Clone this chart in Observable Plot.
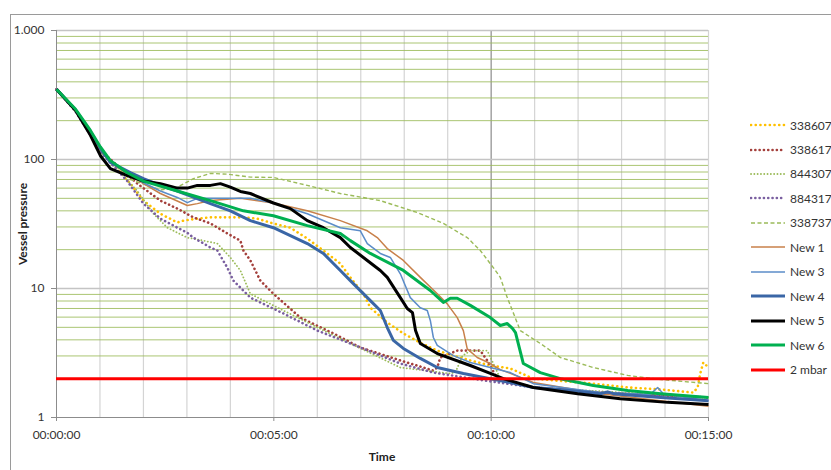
<!DOCTYPE html>
<html>
<head>
<meta charset="utf-8">
<script src="https://cdn.jsdelivr.net/npm/d3@7"></script>
<script src="https://cdn.jsdelivr.net/npm/@observablehq/plot@0.6"></script>
<style>
  html, body { margin: 0; padding: 0; background: #fff; overflow: hidden; }
  #wrap { position: relative; width: 831px; height: 470px; font-family: Lato, "Open Sans", sans-serif; }
  #frame { position: absolute; left: 10px; top: 14px; width: 840px; height: 480px; border: 1px solid #9a9a9a; box-sizing: border-box; }
  #chart { position: absolute; left: 0; top: 0; }
  .ytitle { position: absolute; left: 22px; top: 224px; transform: translate(-50%, -50%) rotate(-90deg); font-weight: bold; font-size: 12px; color: #222; white-space: nowrap; }
  .xtitle { position: absolute; left: 382px; top: 456px; transform: translate(-50%, -50%); font-weight: bold; font-size: 12px; color: #222; }
  .leg { position: absolute; left: 750px; height: 14px; display: flex; align-items: center; font-size: 12px; color: #333; }
  .leg svg { margin-right: 4px; }
</style>
</head>
<body>
<div id="wrap">
  <div id="frame"></div>
  <div id="chart"></div>
  <div class="ytitle">Vessel pressure</div>
  <div class="xtitle">Time</div>
</div>
<script>
// ---- Data (time in minutes, pressure in mbar) ----
const s338607 = [[0,350],[0.44,240],[0.78,160],[1.01,118],[1.70,65],[2.0,48],[2.39,38],[2.78,32.5],[2.92,33.6],[3.24,34.8],[3.54,35.6],[4.30,35.6],[4.62,34.8],[4.99,31.9],[5.38,29.6],[5.77,24.4],[6.14,19.7],[6.53,15.6],[6.76,12.2],[7.06,9.1],[7.22,7.1],[7.61,5.45],[7.98,4.48],[8.37,3.8],[8.76,3.3],[9.13,3.02],[9.52,2.77],[9.98,2.53],[10.44,2.4],[10.97,2.0],[12.35,1.83],[13.14,1.71],[13.9,1.65],[14.65,1.56],[14.75,1.71],[14.81,2.19],[14.88,2.67],[15,2.44]];
const s338617 = [[0,350],[0.44,240],[0.78,160],[1.01,118],[1.86,65],[2.39,48],[2.78,41.6],[3.15,35.6],[3.54,32],[3.93,26.7],[4.23,23.5],[4.30,19.7],[4.46,16.5],[4.69,11.5],[4.99,9.1],[5.61,5.95],[6.37,4.48],[6.99,3.49],[7.91,2.77],[8.67,2.31],[8.76,2.44],[8.83,2.92],[9.22,3.3],[9.75,3.3],[9.91,2.77],[10.14,2.0],[10.97,1.71],[12.51,1.56],[15,1.43]];
const s844307 = [[0,350],[0.44,235],[0.78,155],[1.01,115],[1.86,57],[2.23,38],[2.55,29.6],[3.01,24.8],[3.38,23.5],[3.70,22.3],[4.0,17.4],[4.23,13.8],[4.46,9.1],[5.22,6.75],[6.0,5.0],[6.76,3.75],[7.91,2.44],[9.06,2.19],[9.18,2.25],[9.34,3.0],[9.52,3.3],[9.91,3.3],[10.05,2.62],[10.21,2.0],[10.97,1.71],[15,1.43]];
const s884317 = [[0,350],[0.44,235],[0.78,155],[1.01,115],[1.63,68],[2.0,45.5],[2.39,34.8],[2.78,29.6],[3.01,27],[3.15,24.8],[3.54,20.8],[3.70,19.7],[3.93,14.5],[4.07,11.5],[4.46,8.5],[5.22,6.4],[6.0,4.72],[6.76,3.75],[7.91,2.62],[8.67,2.23],[9.82,1.94],[10.97,1.71],[12.51,1.56],[15,1.43]];
const s338737 = [[0,350],[0.44,235],[0.78,155],[1.01,115],[1.70,70],[2.39,58],[2.78,61],[3.15,71],[3.54,78],[3.93,77],[4.46,73],[4.99,72.6],[5.77,63],[6.53,54.5],[7.45,48],[8.30,38.8],[8.9,32],[9.45,24.8],[9.75,19.7],[10.05,14.5],[10.21,12.2],[10.37,8.5],[10.67,4.72],[11.13,3.75],[11.59,2.92],[12.35,2.44],[13.14,2.12],[13.9,1.97],[15,1.83]];
const new1 = [[0,350],[0.44,240],[0.78,163],[1.01,120],[1.24,95],[1.70,75],[2.0,65],[2.39,54.5],[3.01,44],[3.24,45.5],[3.54,48],[4.23,50],[4.99,46],[5.77,40],[6.53,33.6],[7.15,28],[7.38,24.8],[7.61,20.4],[7.98,16.5],[8.37,12.2],[8.76,9.1],[8.99,7.6],[9.22,5.95],[9.36,4.72],[9.45,3.4],[9.68,2.92],[9.98,2.62],[10.21,2.35],[10.44,2.2],[10.97,1.87],[12.51,1.53],[13.9,1.35],[15,1.22]];
const new3 = [[0,350],[0.44,242],[0.78,165],[1.01,121],[1.24,96],[1.70,76],[2.0,66],[2.39,57],[2.78,50.8],[3.01,46.3],[3.24,50],[4.0,50],[4.46,50],[4.99,46],[5.77,38],[6.53,29.6],[6.99,28],[7.15,22.3],[7.45,18.7],[7.68,17.4],[7.91,13.0],[8.14,8.5],[8.37,7.1],[8.53,6.75],[8.6,5.65],[8.67,4.17],[8.76,3.62],[9.13,3.02],[9.52,2.67],[9.98,2.44],[10.44,2.23],[10.97,1.83],[12.51,1.56],[13.66,1.51],[13.83,1.71],[13.96,1.53],[15,1.35]];
const new4 = [[0,350],[0.44,242],[0.78,165],[1.01,122],[1.24,95],[1.70,79],[2.0,71],[2.39,63],[2.78,57],[3.54,45.5],[4.0,40],[4.46,33.6],[4.99,29.6],[5.38,25.7],[5.77,22.3],[6.14,18.7],[6.53,13.8],[6.76,11.5],[7.22,8.06],[7.45,6.75],[7.61,4.98],[7.75,3.96],[7.98,3.43],[8.37,2.87],[8.76,2.44],[9.36,2.19],[9.98,2.0],[10.44,1.87],[10.97,1.71],[11.59,1.65],[12.51,1.53],[12.68,1.58],[12.81,1.53],[13.9,1.43],[15,1.35]];
const new5 = [[0,350],[0.44,240],[0.78,154],[1.01,107],[1.24,85],[1.63,75],[2.0,68],[2.39,65],[2.78,60],[3.01,60],[3.24,63],[3.54,63],[3.77,65],[4.0,61],[4.23,56.5],[4.46,54.5],[4.99,46],[5.38,41.6],[5.77,33.6],[6.14,29.6],[6.53,24.8],[6.76,20.8],[7.15,16.5],[7.45,13.8],[7.61,12.2],[7.91,8.5],[8.07,7.0],[8.19,6.5],[8.26,4.72],[8.37,3.75],[8.76,3.13],[9.52,2.53],[9.98,2.2],[10.28,2.0],[10.97,1.71],[11.99,1.53],[12.97,1.4],[14.06,1.31],[15,1.26]];
const new6 = [[0,350],[0.44,245],[0.78,168],[1.01,125],[1.24,98],[1.63,79],[2.0,68],[2.78,57],[3.54,48],[4.30,40],[4.99,36.6],[5.77,30.7],[6.53,26.7],[6.76,23.5],[7.22,18.7],[7.98,13.8],[8.6,9.65],[8.9,7.8],[9.06,8.4],[9.22,8.4],[9.52,7.4],[9.98,5.95],[10.21,5.17],[10.37,5.35],[10.49,4.9],[10.56,4.55],[10.74,2.62],[11.13,2.23],[11.59,2.0],[12.35,1.77],[13.14,1.62],[13.9,1.53],[15,1.43]];
const limit2mbar = [2];

const seriesNames = ["338607","338617","844307","884317","338737","New 1","New 3","New 4","New 5","New 6","2 mbar"];
const xTicks = [0, 5, 10, 15];
const xTickLabels = ["00:00:00","00:05:00","00:10:00","00:15:00"];
const yTicks = [1, 10, 100, 1000];
const yTickLabels = ["1","10","100","1.000"];

// ---- Styles ----
const styles = {
  "338607": {stroke:"#ffc000", width:2.6, dash:"0.1 4.6", cap:"round"},
  "338617": {stroke:"#a4403c", width:2.6, dash:"0.1 4.2", cap:"round"},
  "844307": {stroke:"#9bbb59", width:1.8, dash:"0.1 3.2", cap:"round"},
  "884317": {stroke:"#7a5fa0", width:2.6, dash:"0.1 4.2", cap:"round"},
  "338737": {stroke:"#9bbb59", width:1.4, dash:"4 2.5", cap:"butt"},
  "New 1": {stroke:"#c8804a", width:1.5, dash:null, cap:"butt"},
  "New 3": {stroke:"#5b8cc8", width:1.5, dash:null, cap:"butt"},
  "New 4": {stroke:"#3a66a6", width:3, dash:null, cap:"butt"},
  "New 5": {stroke:"#000000", width:3, dash:null, cap:"butt"},
  "New 6": {stroke:"#00b050", width:3, dash:null, cap:"butt"},
  "2 mbar": {stroke:"#ff0000", width:3, dash:null, cap:"butt"}
};
const seriesData = {"338607":s338607,"338617":s338617,"844307":s844307,"884317":s884317,"338737":s338737,"New 1":new1,"New 3":new3,"New 4":new4,"New 5":new5,"New 6":new6};

// grid helpers (layout only)
const minuteGrid = d3.range(1, 16);
const minorY = [];
for (const dec of [1, 10, 100]) for (let k = 2; k <= 9; k++) minorY.push(dec * k);

const lineMarks = Object.keys(seriesData).map(name => {
  const st = styles[name];
  return Plot.line(seriesData[name], {
    x: d => d[0], y: d => d[1],
    stroke: st.stroke, strokeWidth: st.width,
    strokeDasharray: st.dash || undefined,
    strokeLinecap: st.cap, strokeLinejoin: "round"
  });
});

const chart = Plot.plot({
  width: 831, height: 470,
  marginLeft: 56, marginRight: 123, marginTop: 30, marginBottom: 53,
  style: {fontFamily: "Lato, 'Open Sans', sans-serif", fontSize: "12px", color: "#333", background: "transparent"},
  x: {domain: [0, 15], label: null},
  y: {type: "log", domain: [1, 1000], label: null},
  marks: [
    Plot.ruleX(minuteGrid, {stroke: "#d4d4d4", strokeWidth: 1.2}),
    Plot.ruleX([10], {stroke: "#8c8c8c", strokeWidth: 1}),
    Plot.ruleY(minorY, {stroke: "#9bbb59", strokeWidth: 1, strokeOpacity: 0.85}),
    Plot.ruleY([10, 100, 1000], {stroke: "#c4c4c4", strokeWidth: 1.5}),
    Plot.ruleY([1], {stroke: "#8c8c8c", strokeWidth: 1}),
    Plot.ruleX([0], {stroke: "#8c8c8c", strokeWidth: 1}),
    Plot.axisX({ticks: xTicks, tickFormat: (d, i) => xTickLabels[xTicks.indexOf(d)], tickSize: 4, tickPadding: 9, stroke: "#8c8c8c", fill: "#333", label: null}),
    Plot.axisY({ticks: yTicks, tickFormat: d => yTickLabels[yTicks.indexOf(d)], tickSize: 5, tickPadding: 7, stroke: "#8c8c8c", fill: "#333", label: null}),
    ...lineMarks,
    Plot.ruleY(limit2mbar, {stroke: styles["2 mbar"].stroke, strokeWidth: 3})
  ]
});
document.getElementById("chart").appendChild(chart);

// ---- Legend ----
const legendY = [125, 149.5, 173.5, 198, 222.5, 247, 271.5, 296, 320.5, 345, 369.5];
const wrap = document.getElementById("wrap");
seriesNames.forEach((name, i) => {
  const st = styles[name];
  const item = document.createElement("div");
  item.className = "leg";
  item.style.top = (legendY[i] - 7) + "px";
  const ns = "http://www.w3.org/2000/svg";
  const svg = document.createElementNS(ns, "svg");
  svg.setAttribute("width", 36); svg.setAttribute("height", 8);
  const ln = document.createElementNS(ns, "line");
  ln.setAttribute("x1", 1); ln.setAttribute("x2", 35);
  ln.setAttribute("y1", 4); ln.setAttribute("y2", 4);
  ln.setAttribute("stroke", st.stroke);
  ln.setAttribute("stroke-width", st.width);
  if (st.dash) ln.setAttribute("stroke-dasharray", st.dash);
  ln.setAttribute("stroke-linecap", st.cap);
  svg.appendChild(ln);
  item.appendChild(svg);
  const tx = document.createElement("span");
  tx.textContent = name;
  item.appendChild(tx);
  wrap.appendChild(item);
});
</script>
</body>
</html>
